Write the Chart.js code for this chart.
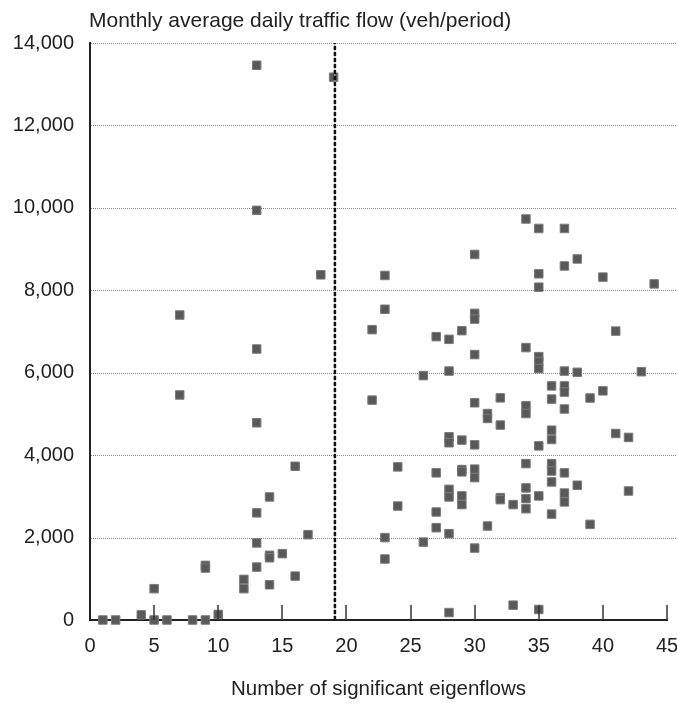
<!DOCTYPE html>
<html>
<head>
<meta charset="utf-8">
<script src="https://cdn.jsdelivr.net/npm/chart.js@4/dist/chart.umd.min.js"></script>
<style>
  html, body { margin: 0; padding: 0; background: #ffffff; }
  #wrap { width: 677px; height: 704px; }
</style>
</head>
<body>
<div id="wrap"><canvas id="c" width="677" height="704"></canvas></div>
<script>
// ---- data ----
const eigenflows = [
  1, 2, 4, 5, 5, 6, 7, 7, 8, 9, 9, 9, 10,
  12, 12,
  13, 13, 13, 13, 13, 13, 13,
  14, 14, 14, 14,
  15, 16, 16, 17, 18, 19,
  22, 22,
  23, 23, 23, 23,
  24, 24,
  26, 26,
  27, 27, 27, 27,
  28, 28, 28, 28, 28, 28, 28, 28,
  29, 29, 29, 29, 29, 29,
  30, 30, 30, 30, 30, 30, 30, 30, 30,
  31, 31, 31,
  32, 32, 32, 32,
  33, 33,
  34, 34, 34, 34, 34, 34, 34, 34,
  35, 35, 35, 35, 35, 35, 35, 35, 35,
  36, 36, 36, 36, 36, 36, 36, 36,
  37, 37, 37, 37, 37, 37, 37, 37, 37,
  38, 38, 38,
  39, 39,
  40, 40,
  41, 41,
  42, 42,
  43, 44
];
const trafficFlow = [
  0, 0, 125, 0, 760, 0, 7400, 5460, 0, 0, 1325, 1260, 135,
  985, 760,
  13460, 9940, 6575, 4785, 2600, 1870, 1285,
  2985, 1570, 1510, 855,
  1610, 3730, 1065, 2070, 8375, 13170,
  7045, 5335,
  8360, 7540, 2000, 1480,
  3715, 2765,
  5930, 1890,
  6875, 3570, 2620, 2240,
  6810, 6040, 4445, 4300, 3170, 2985, 2095, 180,
  7020, 4365, 3650, 3595, 3010, 2800,
  8870, 7440, 7300, 6440, 5270, 4250, 3660, 3455, 1745,
  5010, 4890, 2280,
  5390, 4730, 2970, 2920,
  2800, 360,
  9730, 6610, 5200, 5010, 3795, 3205, 2945, 2700,
  9500, 8400, 8075, 6390, 6270, 6100, 4225, 3010, 255,
  5680, 5360, 4605, 4380, 3795, 3615, 3350, 2570,
  9500, 8590, 6040, 5680, 5530, 5120, 3570, 3080, 2865,
  8760, 6010, 3270,
  5385, 2320,
  8320, 5560,
  7010, 4525,
  4430, 3130,
  6025, 8155
];
const xTickValues = [0, 5, 10, 15, 20, 25, 30, 35, 40, 45];
const yTickValues = [0, 2000, 4000, 6000, 8000, 10000, 12000, 14000];
const thresholdX = 19.1;
const xAxisTitle = 'Number of significant eigenflows';
const yAxisTitle = 'Monthly average daily traffic flow (veh/period)';

// ---- chart ----
const FONT = '"Liberation Sans", Arial, Helvetica, sans-serif';
const TEXT = '#222222';

const points = eigenflows.map((x, i) => ({ x: x, y: trafficFlow[i] }));
const yMin = yTickValues[0], yMax = yTickValues[yTickValues.length - 1];
const xMin = xTickValues[0], xMax = xTickValues[xTickValues.length - 1];

const decor = {
  id: 'decor',
  beforeDatasetsDraw(chart) {
    const { ctx, chartArea: a, scales: { y } } = chart;
    ctx.save();
    ctx.strokeStyle = '#8a8a8a';
    ctx.lineWidth = 1;
    ctx.setLineDash([1, 1]);
    y.ticks.forEach(t => {
      if (t.value === yMin) return;
      const py = Math.round(y.getPixelForValue(t.value)) + 0.5;
      ctx.beginPath();
      ctx.moveTo(a.left + 1, py);
      ctx.lineTo(chart.width, py);
      ctx.stroke();
    });
    ctx.restore();
  },
  afterDatasetsDraw(chart) {
    const { ctx, chartArea: a, scales: { x } } = chart;
    ctx.save();
    ctx.strokeStyle = '#333333';
    ctx.lineWidth = 1.5;
    x.ticks.forEach(t => {
      if (t.value === xMin) return;
      const px = Math.round(x.getPixelForValue(t.value));
      ctx.beginPath();
      ctx.moveTo(px, a.bottom);
      ctx.lineTo(px, a.bottom - 15);
      ctx.stroke();
    });
    ctx.restore();
  },
  afterDraw(chart) {
    const { ctx, chartArea: a } = chart;
    ctx.save();
    ctx.font = '21px ' + FONT;
    ctx.fillStyle = TEXT;
    ctx.textAlign = 'left';
    ctx.textBaseline = 'middle';
    ctx.fillText(yAxisTitle, a.left - 1, 21);
    ctx.restore();
  }
};

new Chart(document.getElementById('c'), {
  type: 'scatter',
  data: {
    datasets: [
      {
        type: 'line',
        data: [{ x: thresholdX, y: yMin }, { x: thresholdX, y: yMax }],
        borderColor: '#111111',
        borderWidth: 2.5,
        borderDash: [4, 2],
        pointRadius: 0,
        fill: false,
        order: 0,
        clip: false
      },
      {
        type: 'line',
        data: [{ x: thresholdX, y: yMin }, { x: thresholdX, y: yMax }],
        borderColor: '#9a9a9a',
        borderWidth: 1,
        pointRadius: 0,
        fill: false,
        order: 1,
        clip: false
      },
      {
        type: 'scatter',
        data: points,
        pointStyle: 'rect',
        pointRadius: 6,
        backgroundColor: '#595959',
        borderColor: '#7a7a7a',
        borderWidth: 1,
        order: 2,
        clip: false
      }
    ]
  },
  options: {
    responsive: false,
    animation: false,
    events: [],
    layout: { padding: { top: 43, right: 10, left: 0, bottom: 0 } },
    plugins: { legend: { display: false }, tooltip: { enabled: false }, title: { display: false } },
    scales: {
      x: {
        type: 'linear',
        min: xMin,
        max: xMax,
        afterBuildTicks: s => { s.ticks = xTickValues.map(v => ({ value: v })); },
        grid: { display: false, drawTicks: false },
        border: { display: true, color: '#222222', width: 2 },
        ticks: { padding: 14, color: TEXT, font: { size: 20, family: FONT }, maxRotation: 0, autoSkip: false },
        title: { display: true, text: xAxisTitle, color: TEXT, font: { size: 20.5, family: FONT }, padding: { top: 0, bottom: 2 } },
        afterFit: s => { s.height = 84; s.paddingLeft = 0; s.paddingRight = 0; }
      },
      y: {
        type: 'linear',
        min: yMin,
        max: yMax,
        afterBuildTicks: s => { s.ticks = yTickValues.map(v => ({ value: v })); },
        grid: { display: false, drawTicks: false },
        border: { display: true, color: '#222222', width: 2 },
        ticks: { padding: 16, color: TEXT, font: { size: 20, family: FONT },
                 callback: v => Number(v).toLocaleString('en-US') },
        afterFit: s => { s.width = 90; s.paddingTop = 0; s.paddingBottom = 0; }
      }
    }
  },
  plugins: [decor]
});
</script>
</body>
</html>
